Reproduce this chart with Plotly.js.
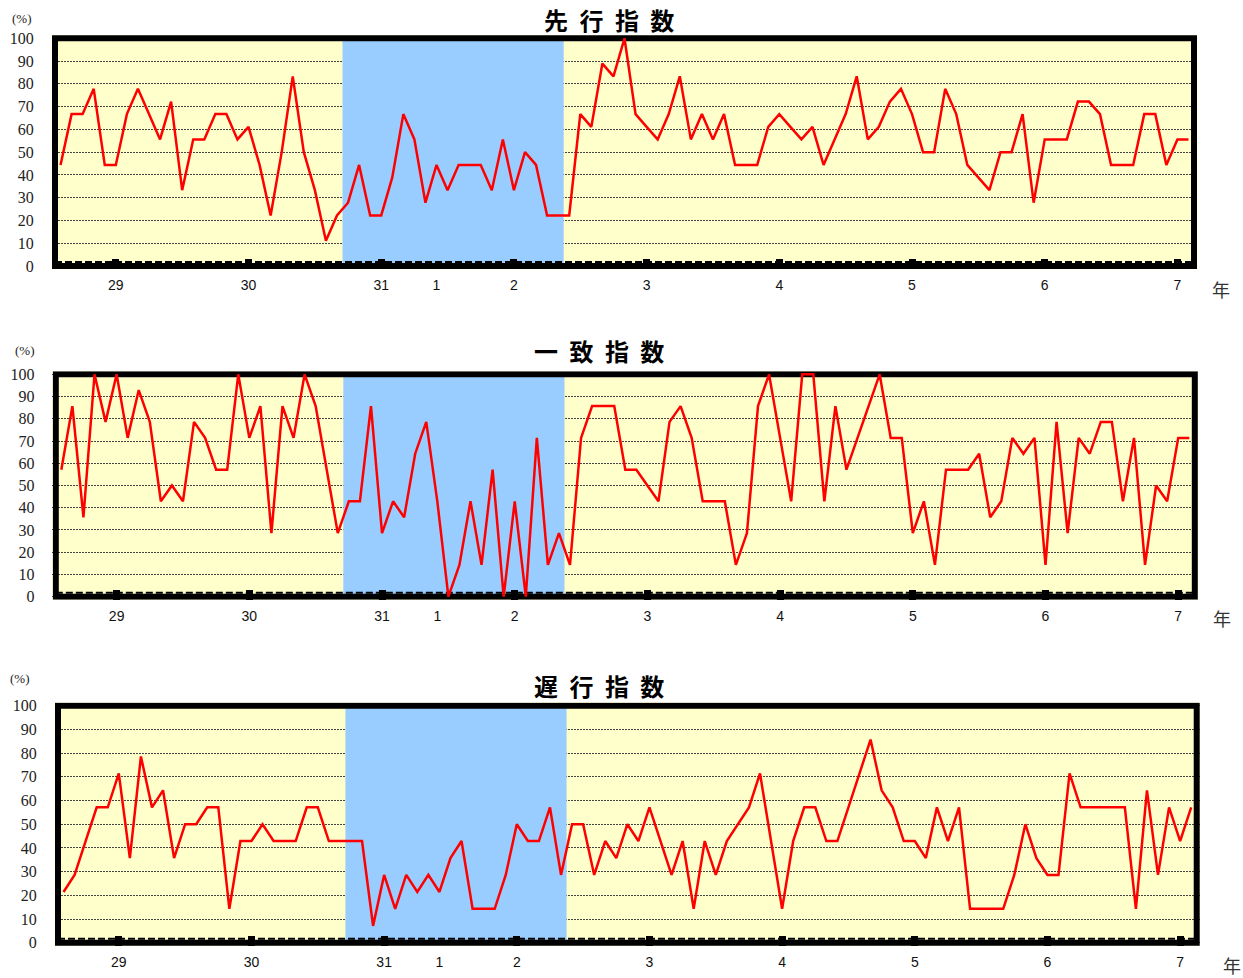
<!DOCTYPE html>
<html>
<head>
<meta charset="utf-8">
<script src="https://cdn.plot.ly/plotly-3.0.1.min.js"></script>
<style>
html, body { margin: 0; padding: 0; background: #ffffff; }
#chart { width: 1243px; height: 978px; }
text[data-unformatted*="指 数"] { letter-spacing: 3px; }
</style>
</head>
<body>
<div id="chart"></div>
<script>
// ---------------- DATA ----------------
// Monthly categories: Aug 2016 (H28) .. Feb 2025 (R7)
const firstYear = 2016, firstMonth = 8, monthCount = 103;
const months = [];
for (let k = 0; k < monthCount; k++) {
  const mm = firstMonth - 1 + k;
  const yy = firstYear + Math.floor(mm / 12);
  months.push(yy + '-' + String((mm % 12) + 1).padStart(2, '0'));
}

// Tick labels (Japanese era years)
const tickMonths = ['2017-01', '2018-01', '2019-01', '2019-06', '2020-01', '2021-01', '2022-01', '2023-01', '2024-01', '2025-01'];
const tickLabels = ['29', '30', '31', '1', '2', '3', '4', '5', '6', '7'];
const yearStartMonths = ['2017-01', '2018-01', '2019-01', '2020-01', '2021-01', '2022-01', '2023-01', '2024-01', '2025-01'];
const yTicks = [0, 10, 20, 30, 40, 50, 60, 70, 80, 90, 100];

// Recession (shaded) period
const recessionStart = '2018-10';
const recessionEnd = '2020-05';

// Diffusion index values (%)
const leading = [
  44.4, 66.7, 66.7, 77.8, 44.4,
  44.4, 66.7, 77.8, 66.7, 55.6, 72.2, 33.3, 55.6, 55.6, 66.7, 66.7, 55.6,
  61.1, 44.4, 22.2, 50.0, 83.3, 50.0, 33.3, 11.1, 22.2, 27.8, 44.4, 22.2,
  22.2, 38.9, 66.7, 55.6, 27.8, 44.4, 33.3, 44.4, 44.4, 44.4, 33.3, 55.6,
  33.3, 50.0, 44.4, 22.2, 22.2, 22.2, 66.7, 61.1, 88.9, 83.3, 100, 66.7,
  61.1, 55.6, 66.7, 83.3, 55.6, 66.7, 55.6, 66.7, 44.4, 44.4, 44.4, 61.1,
  66.7, 61.1, 55.6, 61.1, 44.4, 55.6, 66.7, 83.3, 55.6, 61.1, 72.2, 77.8,
  66.7, 50.0, 50.0, 77.8, 66.7, 44.4, 38.9, 33.3, 50.0, 50.0, 66.7, 27.8,
  55.6, 55.6, 55.6, 72.2, 72.2, 66.7, 44.4, 44.4, 44.4, 66.7, 66.7, 44.4,
  55.6, 55.6
];
const coincident = [
  57.1, 85.7, 35.7, 100, 78.6,
  100, 71.4, 92.9, 78.6, 42.9, 50.0, 42.9, 78.6, 71.4, 57.1, 57.1, 100,
  71.4, 85.7, 28.6, 85.7, 71.4, 100, 85.7, 57.1, 28.6, 42.9, 42.9, 85.7,
  28.6, 42.9, 35.7, 64.3, 78.6, 42.9, 0, 14.3, 42.9, 14.3, 57.1, 0,
  42.9, 0, 71.4, 14.3, 28.6, 14.3, 71.4, 85.7, 85.7, 85.7, 57.1, 57.1,
  50.0, 42.9, 78.6, 85.7, 71.4, 42.9, 42.9, 42.9, 14.3, 28.6, 85.7, 100,
  71.4, 42.9, 100, 100, 42.9, 85.7, 57.1, 71.4, 85.7, 100, 71.4, 71.4,
  28.6, 42.9, 14.3, 57.1, 57.1, 57.1, 64.3, 35.7, 42.9, 71.4, 64.3, 71.4,
  14.3, 78.6, 28.6, 71.4, 64.3, 78.6, 78.6, 42.9, 71.4, 14.3, 50.0, 42.9,
  71.4, 71.4
];
const lagging = [
  21.4, 28.6, 42.9, 57.1, 57.1,
  71.4, 35.7, 78.6, 57.1, 64.3, 35.7, 50.0, 50.0, 57.1, 57.1, 14.3, 42.9,
  42.9, 50.0, 42.9, 42.9, 42.9, 57.1, 57.1, 42.9, 42.9, 42.9, 42.9, 7.1,
  28.6, 14.3, 28.6, 21.4, 28.6, 21.4, 35.7, 42.9, 14.3, 14.3, 14.3, 28.6,
  50.0, 42.9, 42.9, 57.1, 28.6, 50.0, 50.0, 28.6, 42.9, 35.7, 50.0, 42.9,
  57.1, 42.9, 28.6, 42.9, 14.3, 42.9, 28.6, 42.9, 50.0, 57.1, 71.4, 42.9,
  14.3, 42.9, 57.1, 57.1, 42.9, 42.9, 57.1, 71.4, 85.7, 64.3, 57.1, 42.9,
  42.9, 35.7, 57.1, 42.9, 57.1, 14.3, 14.3, 14.3, 14.3, 28.6, 50.0, 35.7,
  28.6, 28.6, 71.4, 57.1, 57.1, 57.1, 57.1, 57.1, 14.3, 64.3, 28.6, 57.1,
  42.9, 57.1
];
const panelTitles = ['先 行 指 数', '一 致 指 数', '遅 行 指 数'];

// ---------------- LAYOUT (pixel geometry of each panel) ----------------
const W = 1243, H = 978;
const Y_PAD = 1.4;   // value units of plot area hidden under the frame
const X_PAD = 0.3;   // category units of plot area hidden under the frame
const panels = [
  { series: leading,    left: 55,   right: 1194,   y0: 266,   y100: 38.3,  title: [610, 20],  pct: [22, 18],  nen: [1221, 289] },
  { series: coincident, left: 55.8, right: 1194.8, y0: 596.7, y100: 374.3, title: [600, 351], pct: [25, 350], nen: [1222, 618] },
  { series: lagging,    left: 58,   right: 1196.7, y0: 942.7, y100: 705.7, title: [600, 685], pct: [20, 678], nen: [1232, 965] }
];

const xIdx = months.map((m, i) => i);
const tickIdx = tickMonths.map(m => months.indexOf(m));
const yearIdx = yearStartMonths.map(m => months.indexOf(m));
const recX0 = months.indexOf(recessionStart) - 0.5;
const recX1 = months.indexOf(recessionEnd) + 0.5;
const xFirst = -0.5, xLast = months.length - 0.5;

const layout = {
  width: W, height: H,
  margin: { l: 0, r: 0, t: 0, b: 0, pad: 0 },
  paper_bgcolor: '#ffffff',
  plot_bgcolor: '#FFFFCC',
  showlegend: false,
  hovermode: false,
  shapes: [],
  annotations: []
};
const data = [];

panels.forEach((p, i) => {
  const n = i === 0 ? '' : String(i + 1);
  const ppu = (p.y0 - p.y100) / 100;                 // px per value unit
  const ppx = (p.right - p.left) / months.length;    // px per month
  const botPx = p.y0 + Y_PAD * ppu;
  const topPx = p.y100 - Y_PAD * ppu;
  const leftPx = p.left - X_PAD * ppx;
  const rightPx = p.right + X_PAD * ppx;

  layout['xaxis' + n] = {
    domain: [leftPx / W, rightPx / W],
    range: [xFirst - X_PAD, xLast + X_PAD],
    anchor: 'y' + n,
    type: 'linear',
    tickmode: 'array', tickvals: tickIdx, ticktext: tickLabels,
    ticks: '', showgrid: false, zeroline: false, showline: false,
    tickfont: { family: 'Liberation Sans, Arial, sans-serif', size: 14, color: '#111' },
    ticklabelstandoff: 6,
    minor: { tickmode: 'array', tickvals: yearIdx, ticks: 'inside', ticklen: 10, tickwidth: 7, tickcolor: '#000', showgrid: false },
    fixedrange: true
  };
  layout['yaxis' + n] = {
    domain: [1 - botPx / H, 1 - topPx / H],
    range: [0 - Y_PAD, 100 + Y_PAD],
    anchor: 'x' + n,
    tickmode: 'array', tickvals: yTicks,
    ticks: '', showgrid: true, gridcolor: '#444', gridwidth: 1, griddash: '2px,1px',
    zeroline: false, showline: false,
    tickfont: { family: 'Liberation Serif, Times New Roman, serif', size: 16, color: '#222' },
    ticklabelstandoff: 17,
    fixedrange: true
  };

  // recession shading
  layout.shapes.push({
    type: 'rect', xref: 'x' + n, yref: 'y' + n,
    x0: recX0, x1: recX1, y0: 0, y1: 100,
    fillcolor: '#99CCFF', line: { width: 0 }, layer: 'between'
  });
  // dashed line along the inner bottom edge of the frame
  const dashY = 4 / ppu;
  layout.shapes.push({
    type: 'line', xref: 'x' + n, yref: 'y' + n,
    x0: xFirst, x1: xLast, y0: dashY, y1: dashY,
    line: { color: '#000', width: 2, dash: '7px,3px' }, layer: 'between'
  });
  // thick frame
  layout.shapes.push({
    type: 'rect', xref: 'x' + n, yref: 'y' + n,
    x0: xFirst, x1: xLast, y0: 0, y1: 100,
    line: { color: '#000', width: 6 }, fillcolor: 'rgba(0,0,0,0)', layer: 'between'
  });

  data.push({
    type: 'scatter', mode: 'lines',
    x: xIdx, y: p.series,
    xaxis: 'x' + n, yaxis: 'y' + n,
    line: { color: '#FF0000', width: 2.5 },
    hoverinfo: 'skip'
  });

  layout.annotations.push({
    xref: 'paper', yref: 'paper', x: p.title[0] / W, y: 1 - p.title[1] / H,
    xanchor: 'center', yanchor: 'middle', showarrow: false,
    text: '<b>' + panelTitles[i] + '</b>',
    font: { family: 'Noto Sans CJK JP, sans-serif', size: 24, color: '#000' }
  });
  layout.annotations.push({
    xref: 'paper', yref: 'paper', x: p.pct[0] / W, y: 1 - p.pct[1] / H,
    xanchor: 'center', yanchor: 'middle', showarrow: false,
    text: '(%)',
    font: { family: 'Liberation Serif, serif', size: 13, color: '#222' }
  });
  layout.annotations.push({
    xref: 'paper', yref: 'paper', x: p.nen[0] / W, y: 1 - p.nen[1] / H,
    xanchor: 'center', yanchor: 'middle', showarrow: false,
    text: '年',
    font: { family: 'Noto Sans CJK JP, sans-serif', size: 18, color: '#333' }
  });
});

Plotly.newPlot('chart', data, layout, { staticPlot: true, displayModeBar: false });
</script>
</body>
</html>
